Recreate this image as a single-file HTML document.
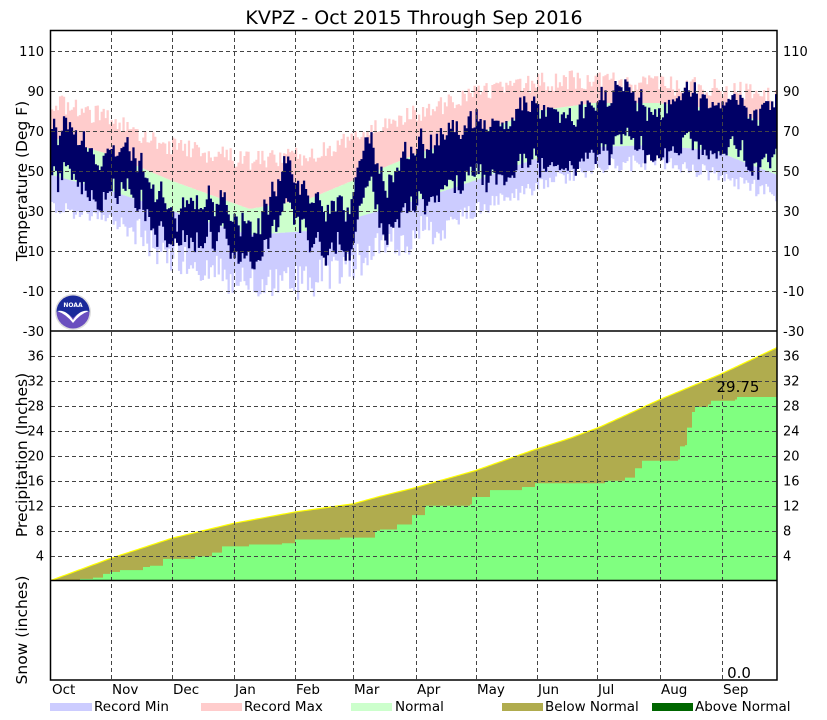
<!DOCTYPE html>
<html><head><meta charset="utf-8"><style>
html,body{margin:0;padding:0;background:#fff;}
svg{display:block;font-family:"DejaVu Sans","Liberation Sans",sans-serif;}
</style></head><body>
<svg id="s" width="827" height="720" viewBox="0 0 827 720" xmlns="http://www.w3.org/2000/svg">
<rect width="827" height="720" fill="#fff"/>
<g id="temp"></g>
<g id="prec"></g>
<g id="grid" stroke="#444" stroke-width="1" stroke-dasharray="4,3" fill="none"></g>
<g id="axes"></g>
<text x="414" y="24" font-size="19" text-anchor="middle">KVPZ - Oct 2015 Through Sep 2016</text>
<text transform="translate(27,181) rotate(-90)" font-size="15.5" text-anchor="middle">Temperature (Deg F)</text>
<text transform="translate(27,455) rotate(-90)" font-size="15.5" text-anchor="middle">Precipitation (Inches)</text>
<text transform="translate(27,630) rotate(-90)" font-size="15.5" text-anchor="middle">Snow (inches)</text>
<text x="738" y="392" font-size="15" text-anchor="middle">29.75</text>
<text x="739" y="678" font-size="15" text-anchor="middle">0.0</text>
<g font-size="13.5">
<rect x="50" y="703" width="42" height="8" fill="#ccccff"/><text x="94" y="711">Record Min</text>
<rect x="201" y="703" width="41" height="8" fill="#ffcccc"/><text x="244" y="711">Record Max</text>
<rect x="351" y="703" width="41" height="8" fill="#ccffcc"/><text x="395" y="711">Normal</text>
<rect x="502" y="703" width="41" height="8" fill="#b0ac4e"/><text x="545" y="711">Below Normal</text>
<rect x="652" y="703" width="41" height="8" fill="#006600"/><text x="695" y="711">Above Normal</text>
</g>
<g>
<circle cx="73" cy="312" r="18" fill="#ddd"/>
<circle cx="73" cy="312" r="16.5" fill="#6a4fbf"/>
<path d="M56.5,312 A16.5,16.5 0 0 1 89.5,312 Q80,310 73,318 Q66,310 56.5,312Z" fill="#1a2a9a"/>
<path d="M57,311 Q66,309 73,320 Q80,309 89,311 Q80,314 73,323 Q66,314 57,311Z" fill="#fff"/>
<text x="73" y="307" font-size="6" fill="#fff" text-anchor="middle" font-weight="bold">NOAA</text>
</g>
</svg>
<script>
(function(){
var NS="http://www.w3.org/2000/svg";
function el(p,t,a){var e=document.createElementNS(NS,t);for(var k in a)e.setAttribute(k,a[k]);p.appendChild(e);return e;}
var L=51,R=777,N=366,dw=(R-L)/N;
function X(d){return L+d*dw;}
function TY(t){return 331-(t+30)*2;}
function PY(v){return 580.7-v*6.25;}
var seed=12345;function rnd(){seed=(seed*16807)%2147483647;return (seed-1)/2147483646;}
function interp(pts,x){for(var i=0;i<pts.length-1;i++){if(x<=pts[i+1][0]){var a=pts[i],b=pts[i+1];return a[1]+(b[1]-a[1])*(x-a[0])/(b[0]-a[0]);}}return pts[pts.length-1][1];}
var nHi=[[0,67],[30,58],[61,45],[100,31],[130,36],[183,58],[213,68],[244,80],[274,84],[305,84],[335,81],[366,73]];
var nLo=[[0,48],[30,40],[61,30],[100,18],[130,20],[183,35],[213,45],[244,56],[274,62],[305,63],[335,60],[366,48]];
var rHi=[[0,85],[30,76],[61,62],[100,55],[130,58],[183,78],[213,88],[244,94],[274,96],[305,93],[335,92],[366,86]];
var rLo=[[0,32],[30,26],[61,8],[100,-8],[130,-5],[183,18],[213,30],[244,42],[274,52],[305,55],[335,48],[366,38]];
var g=document.getElementById("temp");
var dPink="",dBlue="",dGreen="",dNavy="";
var anom=0;
for(var d=0;d<N;d++){
  var x=X(d),x2=X(d+1)+0.3,w=(x2-x).toFixed(2);
  var nh=interp(nHi,d+0.5),nl=interp(nLo,d+0.5);
  var rh=interp(rHi,d+0.5)+(rnd()-0.5)*10, rl=interp(rLo,d+0.5)+(rnd()-0.5)*(d>40&&d<200?18:8);
  if(rh<nh+4)rh=nh+4; if(rl>nl-4)rl=nl-4;
  dPink+="M"+x.toFixed(2)+","+TY(rh).toFixed(1)+"h"+w+"V"+TY(nh).toFixed(1)+"h-"+w+"Z";
  dGreen+="M"+x.toFixed(2)+","+TY(nh).toFixed(1)+"h"+w+"V"+TY(nl).toFixed(1)+"h-"+w+"Z";
  dBlue+="M"+x.toFixed(2)+","+TY(nl).toFixed(1)+"h"+w+"V"+TY(rl).toFixed(1)+"h-"+w+"Z";
  anom=anom*0.85+(rnd()-0.5)*11;
  var amp=(d>40&&d<200)?1.4:1.0;
  var hi=nh+anom*amp+(rnd()-0.5)*6+2, lo=nl+anom*amp+(rnd()-0.5)*6-2;
  if(hi<lo+5){var t=hi;hi=lo+5;lo=t-3;}
  if(hi>rh)hi=rh; if(lo<rl)lo=rl;
  dNavy+="M"+x.toFixed(2)+","+TY(hi).toFixed(1)+"h"+w+"V"+TY(lo).toFixed(1)+"h-"+w+"Z";
}
el(g,"path",{d:dPink,fill:"#ffcccc"});
el(g,"path",{d:dGreen,fill:"#ccffcc"});
el(g,"path",{d:dBlue,fill:"#ccccff"});
el(g,"path",{d:dNavy,fill:"#000066"});
var nP=[[51,0.05],[111,3.6],[172,6.8],[234,9.2],[295,11.0],[353,12.3],[380,13.5],[413,14.8],[475,17.6],[535,21],[570,22.8],[600,24.6],[630,26.8],[660,29],[720,33],[777,37.3]];
var aP=[[51,0],[80,0.3],[93,0.5],[103,1.1],[110,1.4],[120,1.7],[143,2.2],[150,2.4],[163,3.5],[195,3.9],[212,4.5],[222,5.5],[249,5.8],[282,6.0],[295,6.6],[340,6.9],[375,8.0],[380,8.2],[397,9],[412,10.5],[425,12],[470,12.2],[472,13.4],[490,14.5],[522,15],[535,15.6],[600,15.6],[605,16],[625,16.5],[635,18],[642,19.2],[678,19.4],[680,21.5],[685,21.7],[687,24.5],[692,27],[695,27.8],[708,28.2],[711,28.8],[735,29.0],[737,29.4],[775,29.4],[777,29.75]];
var pg=document.getElementById("prec");
var top="M51,580.7",act="M51,580.7",line="";
for(var d=0;d<=N;d++){var x=X(d);var nv=interp(nP,x);top+="L"+x.toFixed(2)+","+PY(nv).toFixed(2);line+=(d?"L":"M")+x.toFixed(2)+","+PY(nv).toFixed(2);}
top+="L777,580.7Z";
var prev=0;
for(var i=0;i<aP.length;i++){var p=aP[i];act+="L"+p[0]+","+PY(prev).toFixed(2)+"L"+p[0]+","+PY(p[1]).toFixed(2);prev=p[1];}
act+="L777,580.7Z";
el(pg,"path",{d:top,fill:"#b0ac4e"});
el(pg,"path",{d:act,fill:"#80ff80"});
el(pg,"path",{d:line,fill:"none",stroke:"#ffff00","stroke-width":"1.2"});
var gr=document.getElementById("grid");
var months=[["Oct",51],["Nov",111],["Dec",172],["Jan",234],["Feb",295],["Mar",353],["Apr",416],["May",476],["Jun",537],["Jul",597],["Aug",660],["Sep",722]];
for(var i=1;i<months.length;i++){el(gr,"line",{x1:months[i][1]+.5,y1:31,x2:months[i][1]+.5,y2:680});}
var ax=document.getElementById("axes");
for(var t=-10;t<=110;t+=20){var y=TY(t)+.5;el(gr,"line",{x1:L,y1:y,x2:R,y2:y});}
for(var t=-30;t<=110;t+=20){var y=TY(t);
 var a=el(ax,"text",{x:44,y:y+5,"font-size":"13","text-anchor":"end"});a.textContent=t;
 var b=el(ax,"text",{x:783,y:y+5,"font-size":"13"});b.textContent=t;}
for(var v=4;v<=36;v+=4){var y=PY(v);el(gr,"line",{x1:L,y1:Math.round(y)+.5,x2:R,y2:Math.round(y)+.5});
 var a=el(ax,"text",{x:44,y:y+5,"font-size":"13","text-anchor":"end"});a.textContent=v;
 var b=el(ax,"text",{x:783,y:y+5,"font-size":"13"});b.textContent=v;}
el(ax,"rect",{x:50.5,y:30.5,width:R-50.5,height:649.5,fill:"none",stroke:"#000","stroke-width":"1.5"});
el(ax,"line",{x1:50,y1:331,x2:R,y2:331,stroke:"#000","stroke-width":"1.5"});
el(ax,"line",{x1:50,y1:580.5,x2:R,y2:580.5,stroke:"#000","stroke-width":"1.5"});
for(var i=0;i<months.length;i++){var a=el(ax,"text",{x:months[i][1]+1,y:694,"font-size":"13.5"});a.textContent=months[i][0];}
})();
</script>
</body></html>
